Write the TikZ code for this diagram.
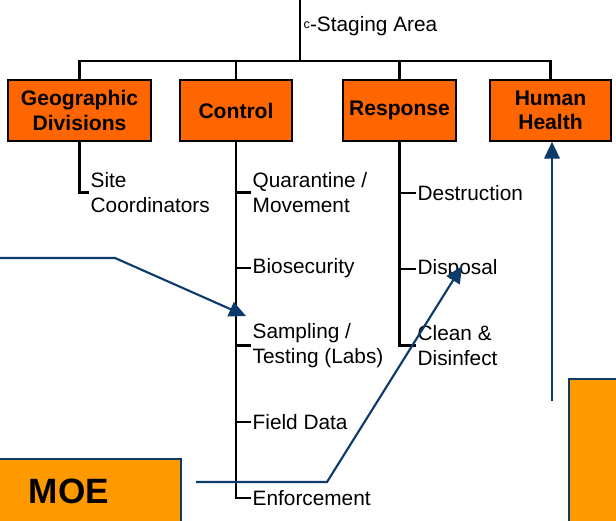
\documentclass[tikz,border=0pt]{standalone}
\usepackage{fontspec}
\setmainfont{Liberation Sans}
\usepackage{tikz}
\usetikzlibrary{arrows.meta,positioning}
\definecolor{orgorange}{HTML}{FF6600}
\definecolor{moeorange}{HTML}{FF9900}
\definecolor{moenavy}{HTML}{0B3A6B}
\begin{document}
\begin{tikzpicture}[x=0.025cm,y=-0.025cm,
    font=\fontsize{14.8}{17.7}\selectfont,
    orgbox/.style={draw=black,line width=1pt,fill=orgorange,inner sep=0pt,
      minimum height=1.525cm,minimum width=#1,align=center,font=\fontsize{15}{17.5}\selectfont\bfseries},
    leaf/.style={anchor=west,inner sep=1pt,align=left},
    tree/.style={black,line width=2pt},
    link/.style={moenavy,line width=1.5pt,-{Triangle[length=12pt,width=11pt]}},
    moebox/.style={draw=moenavy,line width=1.2pt,fill=moeorange,inner sep=0pt}]
    \useasboundingbox (0,0) rectangle (616,520);
    % side boxes
    \node[moebox,anchor=north west,minimum width=1.45cm,minimum height=3.9cm] (sidebox) at (568,378) {};
    \node[moebox,anchor=north west,minimum height=1.65cm,text width=2.975cm,inner xsep=0.825cm,align=left,
      font=\fontsize{25}{25}\selectfont\bfseries] (moe) at (-5,458) {MOE};
    % org boxes
    \coordinate (top) at (300,0);
    \node[orgbox=3.575cm] (geo) at (79.5,110.5) {Geographic\\Divisions};
    \node[orgbox=2.8cm] (ctl) at (236,110.5) {Control};
    \node[orgbox=2.825cm] (resp) at (399.5,110.5) {Response};
    \node[orgbox=3.025cm] (hh) at (550.5,110.5) {Human\\Health};
    \node[leaf] (stage) at (302,26) {\raisebox{0.3ex}{\fontsize{9}{9}\selectfont c}-Staging Area};
    \draw[tree] (top) -- (300,61);
    \draw[tree] (geo.north) |- (300,61) -| (hh.north);
    \draw[tree] (ctl.north) -- (ctl.north |- 0,61);
    \draw[tree] (resp.north) -- (resp.north |- 0,61);
    % leaves
    \node[leaf] (site) at (89,192.5) {Site\\Coordinators};
    \node[leaf] (quar) at (251,192.5) {Quarantine /\\Movement};
    \node[leaf] (bio) at (251,268) {Biosecurity};
    \node[leaf] (samp) at (251,345.5) {Sampling /\\Testing (Labs)};
    \node[leaf] (field) at (251,422) {Field Data};
    \node[leaf] (enf) at (251,498) {Enforcement};
    \node[leaf] (dest) at (416,193) {Destruction};
    \node[leaf] (disp) at (416,269) {Disposal};
    \node[leaf] (clean) at (416,345.5) {Clean \&\\Disinfect};
    \draw[tree] (geo.south) |- (site.west);
    \draw[tree] (ctl.south) |- (enf.west);
    \foreach \n in {quar,bio,samp,field}
      \draw[tree] (ctl.south |- \n.west) -- (\n.west);
    \draw[tree] (resp.south) |- (clean.west);
    \foreach \n in {dest,disp}
      \draw[tree] (resp.south |- \n.west) -- (\n.west);
    % links
    \coordinate (lfree) at (0,258);
    \coordinate (lbend) at (115,258);
    \coordinate (lend) at (246,316);
    \coordinate (mstart) at (196,482);
    \coordinate (mbend) at (327,482);
    \coordinate (mend) at (462,266);
    \coordinate (hfoot) at (552,401);
    \draw[link] (lfree) -- (lbend) -- (lend);
    \draw[link] (mstart) -- (mbend) -- (mend);
    \draw[link] (hfoot) -- (hfoot |- hh.south);
\end{tikzpicture}
\end{document}
